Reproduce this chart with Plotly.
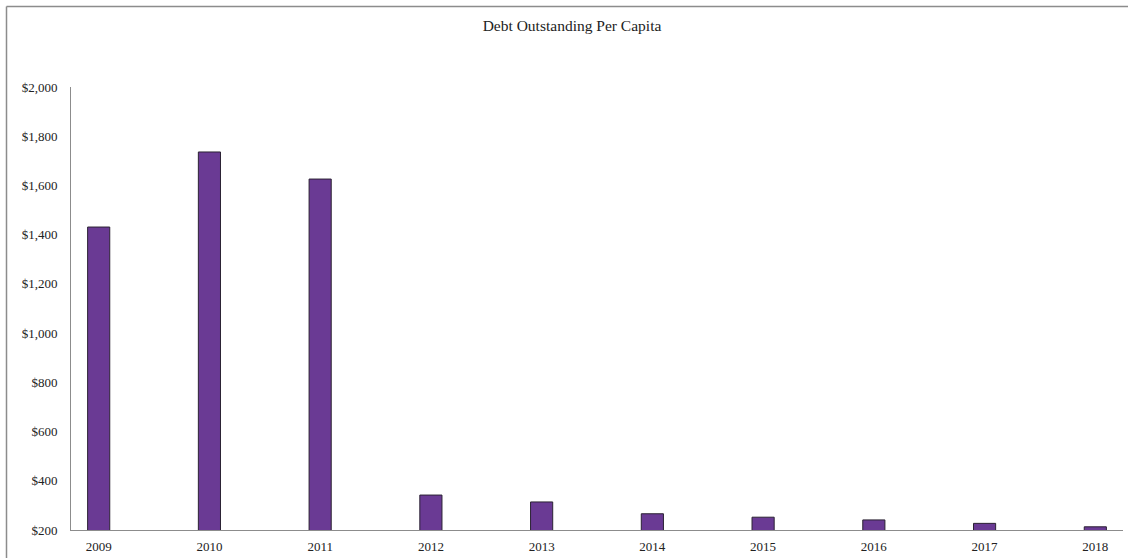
import plotly.graph_objects as go

years = ["2009", "2010", "2011", "2012", "2013", "2014", "2015", "2016", "2017", "2018"]
debt_per_capita = [1431, 1736, 1626, 342, 314, 266, 252, 241, 227, 213]
y_ticks = [200, 400, 600, 800, 1000, 1200, 1400, 1600, 1800, 2000]
y_tick_labels = ["$200", "$400", "$600", "$800", "$1,000", "$1,200", "$1,400", "$1,600", "$1,800", "$2,000"]

W, H = 1128, 558
ML, MR, MT, MB = 71, 5, 87, 28
PW, PH = W - ML - MR, H - MT - MB

fig = go.Figure(
    go.Bar(
        x=list(range(len(years))),
        y=debt_per_capita,
        width=0.2,
        marker=dict(color="#6a3a94", line=dict(color="#2b2233", width=1)),
        hoverinfo="y",
    )
)

fig.update_layout(
    width=W,
    height=H,
    margin=dict(l=ML, r=MR, t=MT, b=MB, pad=0, autoexpand=False),
    paper_bgcolor="white",
    plot_bgcolor="white",
    showlegend=False,
    font=dict(family="Liberation Serif, Times New Roman, serif", size=13, color="#222"),
    title=dict(
        text="Debt Outstanding Per Capita",
        x=572 / W,
        xanchor="center",
        y=1 - 26 / H,
        yanchor="middle",
        font=dict(size=15.5, color="#222"),
    ),
    xaxis=dict(
        range=[-0.25, len(years) - 0.75],
        tickmode="array",
        tickvals=list(range(len(years))),
        ticktext=years,
        showgrid=False,
        zeroline=False,
        showline=True,
        linecolor="#8c8c8c",
        linewidth=1,
        ticks="",
        ticklabelstandoff=4,
        automargin=False,
    ),
    yaxis=dict(
        range=[200, 2000],
        tickmode="array",
        tickvals=y_ticks,
        ticktext=y_tick_labels,
        showgrid=False,
        zeroline=False,
        showline=True,
        linecolor="#8c8c8c",
        linewidth=1,
        ticks="",
        ticklabelstandoff=10,
        automargin=False,
    ),
    shapes=[
        # chart frame: left and top edges
        dict(
            type="line", xref="paper", yref="paper",
            x0=(6.5 - ML) / PW, x1=(6.5 - ML) / PW,
            y0=1 + (MT - 6.5) / PH, y1=-(MB + 10) / PH,
            line=dict(color="#8c8c8c", width=1.5),
        ),
        dict(
            type="line", xref="paper", yref="paper",
            x0=(6.5 - ML) / PW, x1=(W + 5 - ML) / PW,
            y0=1 + (MT - 6.5) / PH, y1=1 + (MT - 6.5) / PH,
            line=dict(color="#8c8c8c", width=1.5),
        ),
    ],
)

fig.write_html("out.html")
